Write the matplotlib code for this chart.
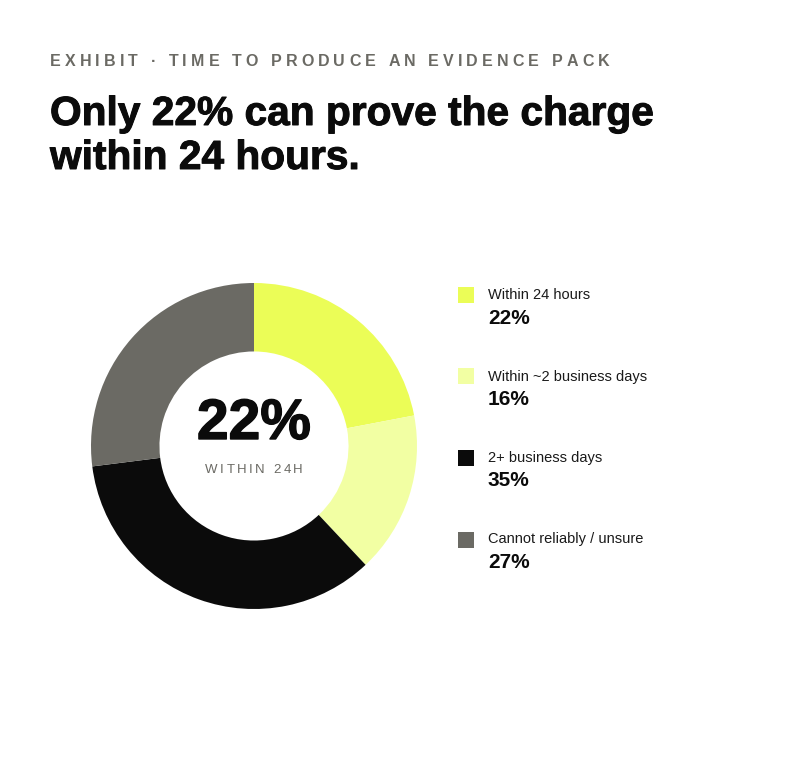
import matplotlib
matplotlib.use('Agg')
import matplotlib.pyplot as plt
import matplotlib.patheffects as pe

plt.rcParams['font.family'] = ['Liberation Sans', 'DejaVu Sans']

# Data
categories = ['Within 24 hours', 'Within ~2 business days', '2+ business days', 'Cannot reliably / unsure']
shares = [22, 16, 35, 27]
colors = ['#EBFD57', '#F2FFA3', '#0B0B0B', '#6B6A64']

W, H = 800, 779
fig = plt.figure(figsize=(W / 100, H / 100), dpi=100)
fig.patch.set_facecolor('white')


def px(x, y):
    # pixel coords (from top-left) -> figure fraction
    return x / W, 1 - y / H


def heavy(c, lw):
    return [pe.withStroke(linewidth=lw, foreground=c)]


def spaced_text(x, y, s, spacing, ha='left', **kw):
    # draw text letter by letter with extra tracking (pixels)
    renderer = fig.canvas.get_renderer()
    widths = []
    for ch in s:
        t = fig.text(0, 0, ch if ch != ' ' else 'a', **kw)
        w = t.get_window_extent(renderer).width
        if ch == ' ':
            t2 = fig.text(0, 0, 'a a', **kw)
            w = t2.get_window_extent(renderer).width - 2 * w
            t2.remove()
        t.remove()
        widths.append(w)
    total = sum(widths) + spacing * (len(s) - 1)
    if ha == 'center':
        x = x - total / 2
    for ch, w in zip(s, widths):
        fig.text(*px(x, y), ch, ha='left', **kw)
        x += w + spacing


# Header
spaced_text(50, 62, 'EXHIBIT · TIME TO PRODUCE AN EVIDENCE PACK', 4.1,
            va='center', fontsize=11.5, fontweight='bold', color='#6B6A64')
fig.text(*px(50, 114), 'Only 22% can prove the charge', fontsize=29.3,
         fontweight='bold', color='#0B0B0B', va='center',
         path_effects=heavy('#0B0B0B', 0.7))
fig.text(*px(50, 158), 'within 24 hours.', fontsize=29.3,
         fontweight='bold', color='#0B0B0B', va='center',
         path_effects=heavy('#0B0B0B', 0.7))

# Donut
cx, cy, r = 254, 446, 163
ax = fig.add_axes([(cx - r) / W, 1 - (cy + r) / H, 2 * r / W, 2 * r / H])
ax.pie(shares, colors=colors, startangle=90, counterclock=False,
       wedgeprops=dict(width=0.42, edgecolor='none'))
ax.set_aspect('equal')
ax.set_xlim(-1, 1)
ax.set_ylim(-1, 1)
ax.axis('off')

fig.text(*px(cx, 424), f'{shares[0]}%', ha='center', va='center',
         fontsize=41, fontweight='bold', color='#0B0B0B',
         path_effects=heavy('#0B0B0B', 1.0))
spaced_text(cx, 470, 'WITHIN 24H', 2.5, ha='center', va='center',
            fontsize=9.5, color='#6B6A64')

# Legend
y0, step = 295, 81.5
for i, (lab, val, col) in enumerate(zip(categories, shares, colors)):
    y = y0 + i * step
    sq = 16
    fig.patches.append(plt.Rectangle(px(458, y + sq / 2), sq / W, sq / H,
                                     transform=fig.transFigure, facecolor=col,
                                     edgecolor='none'))
    fig.text(*px(488, y), lab, fontsize=10.5, color='#1a1a1a', va='center')
    fig.text(*px(488, y + 23), f'{val}%', fontsize=15, fontweight='bold',
             color='#0B0B0B', va='center')

plt.savefig('out.png', dpi=100, facecolor='white')
